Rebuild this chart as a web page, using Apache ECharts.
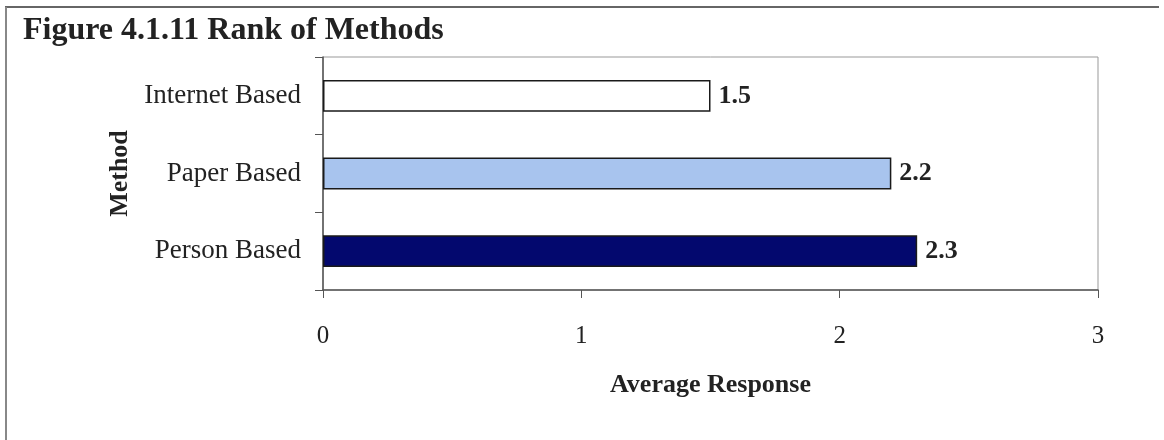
<!DOCTYPE html>
<html>
<head>
<meta charset="utf-8">
<script src="https://cdn.jsdelivr.net/npm/echarts@6/dist/echarts.min.js"></script>
<style>
  html, body { margin: 0; padding: 0; background: #fff; }
  #chart { width: 1164px; height: 440px; }
</style>
</head>
<body>
<div id="chart"></div>
<script>
// Survey results: average rank given to each delivery method
const methods = ['Internet Based', 'Paper Based', 'Person Based'];
const averageResponse = [1.5, 2.2, 2.3];
const barColors = ['#ffffff', '#a8c4ee', '#03086e'];
const xTicks = [0, 1, 2, 3];

const serif = 'Liberation Serif, Times New Roman, serif';
const ink = '#222';

const chart = echarts.init(document.getElementById('chart'), null, { renderer: 'canvas' });

chart.setOption({
  backgroundColor: '#fff',
  animation: false,
  title: {
    text: 'Figure 4.1.11 Rank of Methods',
    left: 18,
    top: 10,
    textStyle: { fontFamily: serif, fontWeight: 'bold', fontSize: 32, color: ink }
  },
  graphic: [
    // page frame: top rule and left rule
    { type: 'line', shape: { x1: 5, y1: 7, x2: 1159, y2: 7 }, style: { stroke: '#666', lineWidth: 2 } },
    { type: 'line', shape: { x1: 6, y1: 7, x2: 6, y2: 440 }, style: { stroke: '#888', lineWidth: 2 } }
  ],
  grid: {
    left: 323, top: 57, right: 66, bottom: 150,
    show: true, borderColor: '#999', borderWidth: 1,
    containLabel: false
  },
  xAxis: {
    type: 'value',
    min: xTicks[0],
    max: xTicks[xTicks.length - 1],
    interval: 1,
    name: 'Average Response',
    nameLocation: 'middle',
    nameGap: 82,
    nameTextStyle: { fontFamily: serif, fontWeight: 'bold', fontSize: 26, color: ink },
    axisLine: { show: true, lineStyle: { color: '#555', width: 1.5 } },
    axisTick: { show: true, length: 8, lineStyle: { color: '#555' } },
    axisLabel: { margin: 34, fontFamily: serif, fontSize: 25, color: ink },
    splitLine: { show: false }
  },
  yAxis: {
    type: 'category',
    data: methods,
    inverse: true,
    name: 'Method',
    nameLocation: 'middle',
    nameRotate: 90,
    nameGap: 188,
    nameTextStyle: { fontFamily: serif, fontWeight: 'bold', fontSize: 26, color: ink },
    axisLine: { show: true, lineStyle: { color: '#555', width: 1.5 } },
    axisTick: { show: true, length: 8, alignWithLabel: false, lineStyle: { color: '#555' } },
    axisLabel: { margin: 22, fontFamily: serif, fontSize: 27, color: ink }
  },
  series: [{
    type: 'bar',
    barCategoryGap: '59%',
    data: averageResponse.map((v, i) => ({
      value: v,
      itemStyle: { color: barColors[i], borderColor: '#1a1a1a', borderWidth: 1.5 }
    })),
    label: {
      show: true,
      position: 'right',
      distance: 8,
      formatter: p => p.value.toFixed(1),
      fontFamily: serif,
      fontWeight: 'bold',
      fontSize: 26,
      color: ink
    }
  }]
});
</script>
</body>
</html>
